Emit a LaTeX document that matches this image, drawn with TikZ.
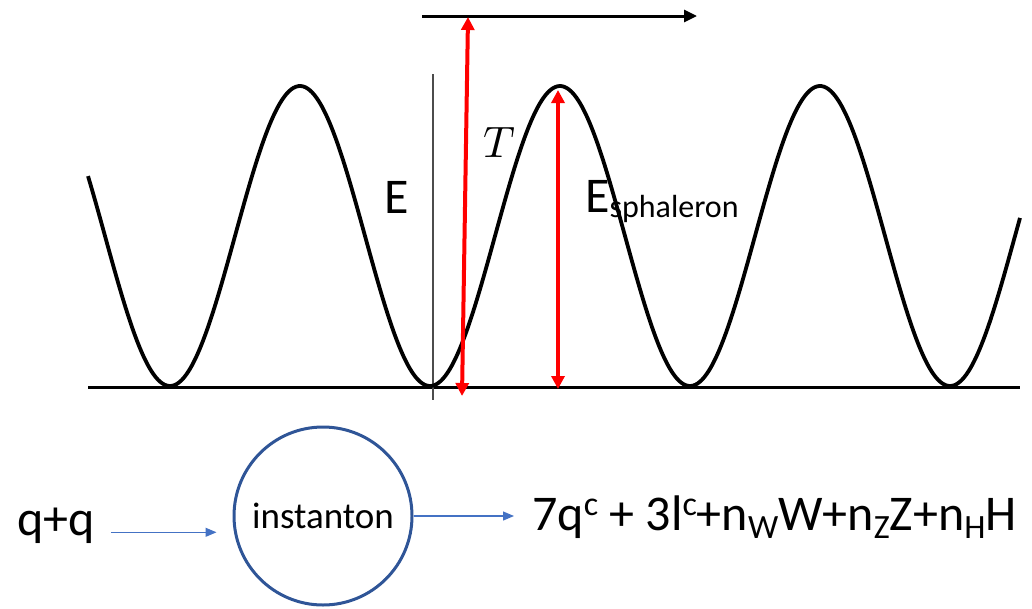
\documentclass[tikz,border=0pt]{standalone}
\usepackage{graphicx}
\usepackage{fontspec}
\setmainfont{Carlito}
\usetikzlibrary{arrows.meta}
\definecolor{circblue}{HTML}{2F5597}
\definecolor{arrblue}{HTML}{4472C4}
\definecolor{redarr}{HTML}{FF0000}
\newcommand{\bigfs}{\fontsize{50}{56}\selectfont}
\newcommand{\subfs}{\fontsize{32}{36}\selectfont}
\newcommand{\fsubfs}{\fontsize{34}{38}\selectfont}
\tikzset{
  curve/.style={line width=3.8pt, black},
  redarrow/.style={line width=4pt, redarr, {Triangle[length=13pt,width=13pt]}-{Triangle[length=13pt,width=13pt]}},
  blackarrow/.style={line width=3pt, black, -{Triangle[length=13pt,width=12pt]}},
  bluearrow/.style={line width=1.2pt, arrblue, -{Triangle[length=11pt,width=9pt]}},
  txt/.style={inner sep=0pt, font=\bigfs},
}
\begin{document}
\begin{tikzpicture}[x=1pt,y=-1pt]
\useasboundingbox (0,0) rectangle (1032,608);
% axes
\draw[line width=3pt] (88,387) -- (1020,387);
\draw[line width=2pt, black!70] (433,74) -- (433,400);
% curve
\draw[curve] plot[domain=88:1020,samples=400,smooth] (\x,{236+150*cos((\x-170)/260*360)});
% top arrow
\coordinate (ta) at (422,16);
\coordinate (tb) at (697,16);
\draw[blackarrow] (ta) -- (tb);
% red arrows
\coordinate (r1a) at (462,396);
\coordinate (r1b) at (468,17);
\draw[redarrow] (r1a) -- (r1b);
\coordinate (r2a) at (558,90);
\coordinate (r2b) at (558,389);
\draw[redarrow] (r2a) -- (r2b);
% labels
\node[txt, anchor=base west] (E) at (384,213) {E};
\node[inner sep=0pt, anchor=base west] (T) at (483,157) {\scalebox{4.4}{$T$}};
\node[txt, anchor=base west] (Es) at (585,212) {E\raisebox{-5pt}{\subfs sphaleron}};
% bottom
\node[txt, anchor=base west] (qq) at (17,535) {q+q};
\node[draw=circblue, line width=3pt, circle, minimum size=178pt, inner sep=0pt, font=\fontsize{37}{42}\selectfont] (inst) at (323,516) {instanton};
\node[txt, anchor=base west] (out) at (532,530) {7q\raisebox{15pt}{\fsubfs c} + 3l\raisebox{15pt}{\fsubfs c}+n\raisebox{-8pt}{\fsubfs W}W+n\raisebox{-8pt}{\fsubfs Z}Z+n\raisebox{-8pt}{\fsubfs H}H};
\draw[bluearrow, shorten >=16pt] ([xshift=16pt,yshift=-7pt]qq.east) -- ([yshift=-7pt]qq.east -| inst.west);
\draw[bluearrow] (inst.east) -- ([xshift=-18pt]inst.east -| out.west);
\end{tikzpicture}
\end{document}
